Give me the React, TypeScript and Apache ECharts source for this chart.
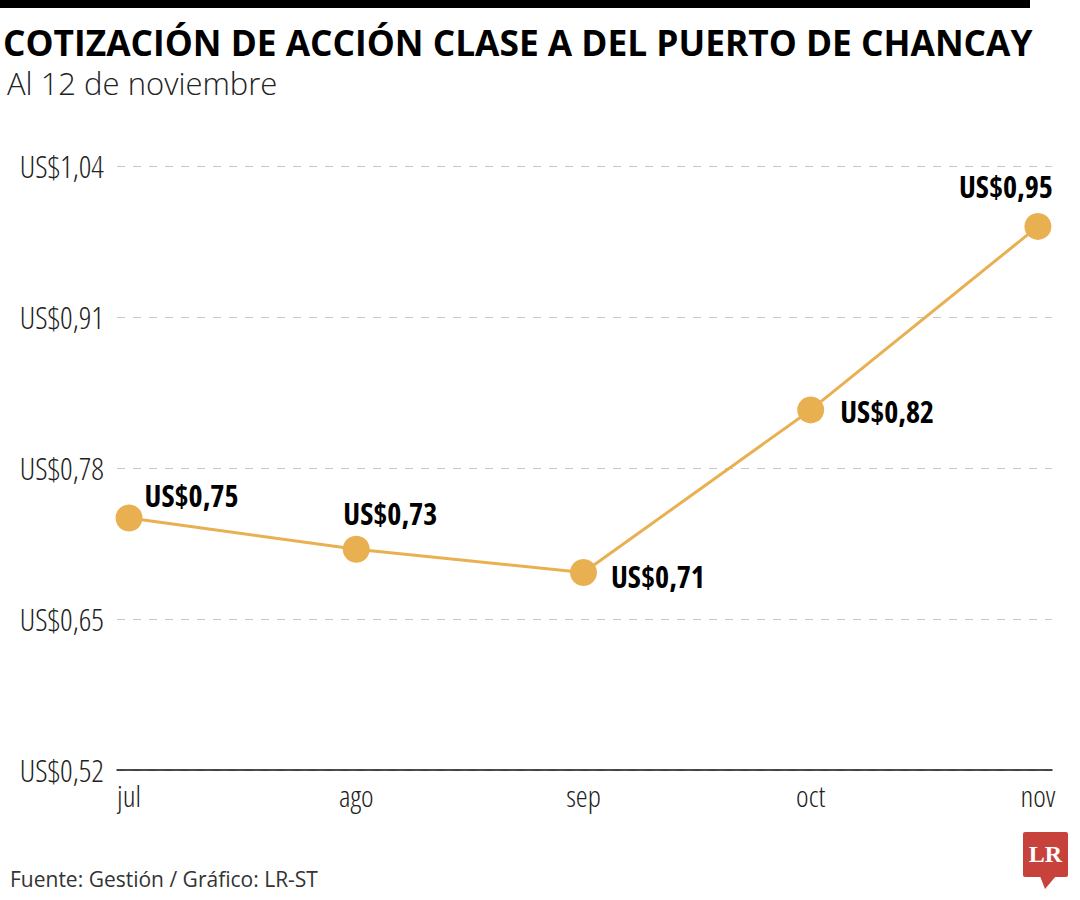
import React, { useEffect, useRef } from "react";
import * as echarts from "echarts";

const months = ["jul", "ago", "sep", "oct", "nov"];
const plotted = [0.737, 0.71, 0.69, 0.83, 0.988];
const priceLabels = ["US$0,75", "US$0,73", "US$0,71", "US$0,82", "US$0,95"];
const yTicks = [0.52, 0.65, 0.78, 0.91, 1.04];

const titleText = "COTIZACIÓN DE ACCIÓN CLASE A DEL PUERTO DE CHANCAY";
const subtitleText = "Al 12 de noviembre";
const sourceText = "Fuente: Gestión / Gráfico: LR-ST";

const GOLD = "#E8B050";
const COND = "'Open Sans', xcond, sans-serif";
const SEMI = "'Open Sans', xsemi, sans-serif";

const labelOffsets: Array<{ position: string; offset: [number, number] }> = [
  { position: "right", offset: [-3, -22] },
  { position: "top", offset: [34, -2] },
  { position: "right", offset: [9, 4] },
  { position: "right", offset: [11, 2] },
  { position: "top", offset: [-32, -6] },
];

export default function App() {
  const ref = useRef<HTMLDivElement>(null);
  useEffect(() => {
    document.body.style.margin = "0";
    const st = document.createElement("style");
    st.textContent =
      'text[style*="xcond"]{font-stretch:75% !important;} text[style*="xsemi"]{font-stretch:80% !important;}';
    document.head.appendChild(st);
    const chart = echarts.init(ref.current!, null, { renderer: "svg" });
    const data = plotted.map((v, i) => ({
      value: [i, v],
      label: {
        show: true,
        position: labelOffsets[i].position as any,
        offset: labelOffsets[i].offset,
        formatter: priceLabels[i],
      },
    }));
    chart.setOption({
      animation: false,
      backgroundColor: "#fff",
      grid: {
        left: 117,
        right: 28,
        top: 166,
        bottom: 130,
        containLabel: false,
        outerBoundsMode: "none",
      },
      xAxis: {
        type: "value",
        min: -0.053,
        max: 4.062,
        splitLine: { show: false },
        axisLine: { show: true, onZero: false, lineStyle: { color: "#111", width: 1.5 } },
        axisTick: { show: false },
        axisLabel: {
          customValues: [0, 1, 2, 3, 4],
          formatter: (v: number) => months[Math.round(v)],
          color: "#222",
          fontFamily: SEMI,
          fontWeight: 300,
          fontSize: 30,
          margin: 10,
        },
      },
      yAxis: {
        type: "value",
        min: yTicks[0],
        max: yTicks[yTicks.length - 1],
        interval: 0.13,
        axisLine: { show: false },
        axisTick: { show: false },
        splitLine: { show: true, lineStyle: { color: "#c8c8c8", type: [8, 8], width: 1 } },
        axisLabel: {
          formatter: (v: number) => "US$" + v.toFixed(2).replace(".", ","),
          color: "#222",
          fontFamily: SEMI,
          fontWeight: 300,
          fontSize: 31,
          margin: 13,
        },
      },
      series: [
        {
          type: "line",
          data,
          symbol: "circle",
          symbolSize: 27,
          itemStyle: { color: GOLD },
          lineStyle: { color: GOLD, width: 3 },
          label: {
            color: "#000",
            fontFamily: COND,
            fontWeight: "bold",
            fontSize: 30,
          },
        },
      ],
      graphic: [
        { type: "rect", shape: { x: 0, y: 0, width: 1030, height: 8 }, style: { fill: "#000" } },
        {
          type: "text",
          x: 3,
          y: 24,
          style: {
            text: titleText,
            fill: "#000",
            font: "bold 35.3px 'Open Sans', sans-serif",
          },
        },
        {
          type: "text",
          x: 7,
          y: 67,
          style: {
            text: subtitleText,
            fill: "#222",
            font: "300 31px 'Open Sans', sans-serif",
          },
        },
        {
          type: "text",
          x: 10,
          y: 868,
          style: {
            text: sourceText,
            fill: "#333",
            font: "21px 'Open Sans', sans-serif",
          },
        },
        {
          type: "rect",
          shape: { x: 1023, y: 832, width: 45, height: 45, r: 2 },
          style: { fill: "#C7423B" },
        },
        {
          type: "polygon",
          shape: { points: [[1040, 876], [1056, 876], [1045, 889]] },
          style: { fill: "#C7423B" },
        },
        {
          type: "text",
          x: 1045.5,
          y: 854,
          style: {
            text: "LR",
            fill: "#fff",
            font: "bold 24px 'Liberation Serif', 'DejaVu Serif', serif",
            align: "center",
            verticalAlign: "middle",
          },
        },
      ],
    });
    return () => {
      chart.dispose();
      st.remove();
    };
  }, []);
  return <div ref={ref} style={{ width: 1080, height: 900 }} />;
}
